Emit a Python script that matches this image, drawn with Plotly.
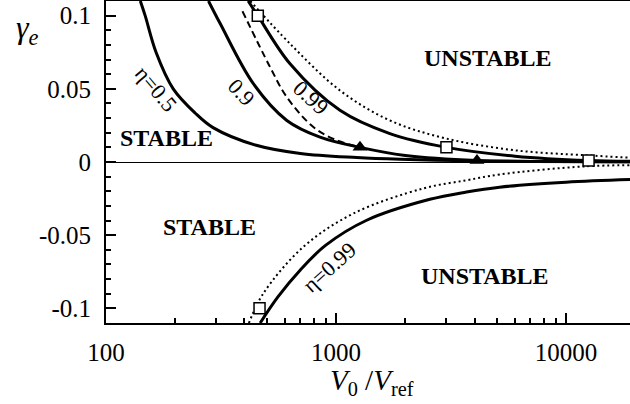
import plotly.graph_objects as go

# curve data (V0/Vref, gamma_e)
v_eta05 = [141, 148, 165, 196, 244, 292, 450, 700, 1230, 1900, 4000, 19000]
g_eta05 = [0.11, 0.1, 0.075, 0.05, 0.0335, 0.0235, 0.0114, 0.0058, 0.003, 0.0018, 0.0007, 0.0002]

v_eta09 = [279, 314, 437, 611, 852, 1271, 2000, 4100, 9000, 19000]
g_eta09 = [0.11, 0.0944, 0.0535, 0.0284, 0.017, 0.01, 0.0045, 0.001, 0.0003, 0.0001]

v_eta099 = [415, 457, 631, 1040, 1714, 3020, 6000, 12530, 19000]
g_eta099 = [0.11, 0.1, 0.0671, 0.0353, 0.0194, 0.01, 0.004, 0.001, 0.0005]

v_dash = [392, 517, 611, 797, 1007, 1271]
g_dash = [0.103, 0.0648, 0.0443, 0.0239, 0.0148, 0.0102]

v_dot_up = [424, 631, 1040, 1714, 3020, 6000, 12170, 19000]
g_dot_up = [0.11, 0.0808, 0.0489, 0.0284, 0.016, 0.008, 0.0046, 0.003]

v_dot_low = [418, 483, 721, 1189, 2400, 3690, 5140, 12000, 19000]
g_dot_low = [-0.11, -0.0898, -0.058, -0.0352, -0.018, -0.0125, -0.0085, -0.003, -0.0022]

v_low099 = [468, 560, 698, 900, 1359, 2558, 3690, 5140, 10000, 19000]
g_low099 = [-0.11, -0.092, -0.0739, -0.057, -0.0398, -0.0255, -0.0205, -0.0172, -0.0138, -0.012]

v_squares = [457, 3020, 12530, 465]
g_squares = [0.1, 0.01, 0.001, -0.1]
v_triangles = [1271, 4100]
g_triangles = [0.01, 0.001]

x_major = [100, 1000, 10000]
x_minor = [m * d for d in (100, 1000, 10000) for m in range(2, 10)]
y_ticks = [-0.1, -0.05, 0, 0.05, 0.1]
y_ticktext = ["-0.1", "-0.05", "0", "0.05", "0.1"]

W, H = 630, 404
L, R, T, B = 106, 0, 1, 81
FONT = "Liberation Serif, Times New Roman, serif"


def px(x, y):
    # pixel position -> paper coords
    return (x - L) / (W - L - R), (H - B - y) / (H - T - B)


fig = go.Figure()

solid = dict(color="black", width=3)
for v, g in [(v_eta05, g_eta05), (v_eta09, g_eta09), (v_eta099, g_eta099), (v_low099, g_low099)]:
    fig.add_trace(go.Scatter(x=v, y=g, mode="lines", line=dict(shape="spline", **solid)))

fig.add_trace(go.Scatter(x=v_dash, y=g_dash, mode="lines",
                         line=dict(color="black", width=2, dash="7px,4px", shape="spline")))
for v, g in [(v_dot_up, g_dot_up), (v_dot_low, g_dot_low)]:
    fig.add_trace(go.Scatter(x=v, y=g, mode="lines",
                             line=dict(color="black", width=2, dash="2px,3px", shape="spline")))

fig.add_trace(go.Scatter(x=v_squares, y=g_squares, mode="markers",
                         marker=dict(symbol="square", size=11, color="white",
                                     line=dict(color="black", width=1.5))))
fig.add_trace(go.Scatter(x=v_triangles, y=g_triangles, mode="markers",
                         marker=dict(symbol="triangle-up", size=13, color="black")))

annots = []
# region labels
for text, (x, y) in [("STABLE", (166, 138)), ("STABLE", (209, 227)),
                     ("UNSTABLE", (488, 58)), ("UNSTABLE", (485, 276))]:
    ax, ay = px(x, y)
    annots.append(dict(x=ax, y=ay, text="<b>%s</b>" % text, font=dict(size=24)))

# curve labels
for text, (x, y), ang in [("η=0.5", (156, 88), 50), ("0.9", (242, 92), 47),
                          ("0.99", (311, 97), 42), ("η=0.99", (329, 267), -42)]:
    ax, ay = px(x, y)
    annots.append(dict(x=ax, y=ay, text=text, textangle=ang, font=dict(size=22)))

# axis titles
ax, ay = px(372, 382)
annots.append(dict(x=ax, y=ay, text="<i>V</i><sub>0</sub> /<i>V</i><sub>ref</sub>", font=dict(size=29)))
ax, ay = px(27, 29)
annots.append(dict(x=ax, y=ay, text="<i>γ</i><sub><i>e</i></sub>", font=dict(size=32)))

for a in annots:
    a["font"].update(family=FONT, color="black")
    a.update(xref="paper", yref="paper", showarrow=False, xanchor="center", yanchor="middle")

fig.update_layout(
    width=W, height=H,
    margin=dict(l=L, r=R, t=T, b=B, autoexpand=False),
    paper_bgcolor="white", plot_bgcolor="white",
    showlegend=False,
    font=dict(family=FONT, size=25, color="black"),
    annotations=annots,
)
fig.update_xaxes(
    type="log", range=[2, 4.278], automargin=False,
    tickvals=x_major, ticktext=[str(v) for v in x_major],
    tickfont=dict(family=FONT, size=25, color="black"),
    ticks="inside", ticklen=10, tickwidth=2, tickcolor="black",
    minor=dict(ticks="inside", ticklen=5, tickwidth=1.5, tickcolor="black",
               tickmode="array", tickvals=x_minor, showgrid=False),
    showline=True, linewidth=2, linecolor="black", mirror=True,
    showgrid=False, zeroline=False, ticklabelstandoff=6,
)
fig.update_yaxes(
    range=[-0.11, 0.11], automargin=False,
    tickvals=y_ticks, ticktext=y_ticktext,
    tickfont=dict(family=FONT, size=25, color="black"),
    ticks="inside", ticklen=10, tickwidth=2, tickcolor="black",
    minor=dict(ticks="inside", ticklen=5, tickwidth=1.5, tickcolor="black",
               dtick=0.01, showgrid=False),
    showline=True, linewidth=2, linecolor="black",
    showgrid=False, zeroline=True, zerolinecolor="black", zerolinewidth=1.3,
    ticklabelstandoff=8,
)

# page body has a default 8px margin; drop it so the figure fills the window
fig.write_html("out.html", config={"displayModeBar": False},
               post_script="document.body.style.margin='0';document.body.style.overflow='hidden';")
